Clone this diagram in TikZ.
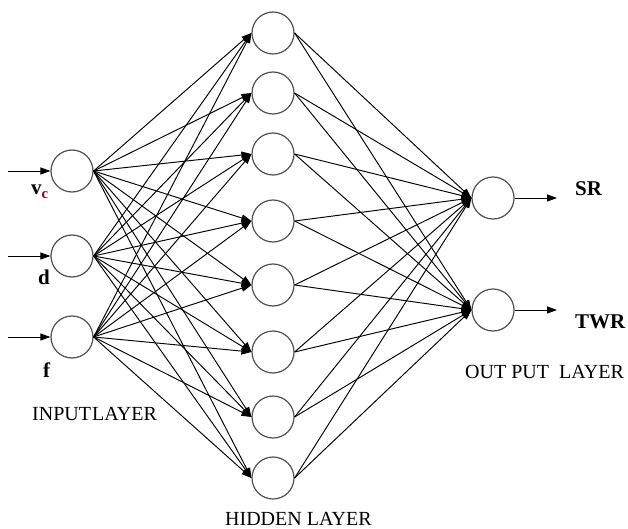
\documentclass[tikz,border=0pt]{standalone}
\usepackage{fontspec}
\setmainfont{Liberation Serif}
\usetikzlibrary{arrows.meta}
\begin{document}
\begin{tikzpicture}[x=1pt,y=-1pt,
  neuron/.style={circle,draw={rgb,255:red,80;green,80;blue,80},line width=1.2pt,minimum size=42pt,inner sep=0pt},
  link/.style={draw=black,line width=0.95pt,-{Triangle[length=10pt,width=7pt]}},
  lbl/.style={anchor=base west,inner sep=0pt,font=\fontsize{21}{21}\selectfont\bfseries},
  layer/.style={anchor=base west,inner sep=0pt,font=\fontsize{20}{20}\selectfont}]
\useasboundingbox (0,0) rectangle (628,529);

% input layer
\node[neuron] (i1) at (72,171) {};
\node[neuron] (i2) at (72,256) {};
\node[neuron] (i3) at (72,337) {};

% hidden layer
\foreach \k/\y in {1/33,2/93,3/154,4/221,5/285,6/352,7/417,8/478}
  \node[neuron] (h\k) at (273,\y) {};

% output layer
\node[neuron] (o1) at (493,198) {};
\node[neuron] (o2) at (493,310) {};

% external inputs and outputs
\coordinate (x1) at (8,171);
\coordinate (x2) at (8,256);
\coordinate (x3) at (8,337);
\coordinate (y1) at (557,198);
\coordinate (y2) at (557,310);
\foreach \k in {1,2,3}
  \draw[link] (x\k) -- (i\k.west);
\draw[link] (o1.east) -- (y1);
\draw[link] (o2.east) -- (y2);

% weights
\foreach \a in {1,2,3}
  \foreach \b in {1,...,8}
    \draw[link] (i\a.east) -- (h\b.west);
\foreach \b in {1,...,8}
  \foreach \c in {1,2}
    \draw[link] (h\b.east) -- (o\c.west);

% labels
\node[lbl] (lv) at (31,195) {v\textsubscript{\color{red!55!black}c}};
\node[lbl] (ld) at (38,284) {d};
\node[lbl] (lf) at (43,377) {f};
\node[lbl] (lsr) at (575,196) {SR};
\node[lbl] (ltwr) at (575,328) {TWR};
\node[layer] (lin) at (32,420) {INPUT\kern1pt LAYER};
\node[layer] (lhid) at (225,525) {HIDDEN LAYER};
\node[layer] (lout) at (465,378) {OUT PUT\ \ LAYER};
\end{tikzpicture}
\end{document}
